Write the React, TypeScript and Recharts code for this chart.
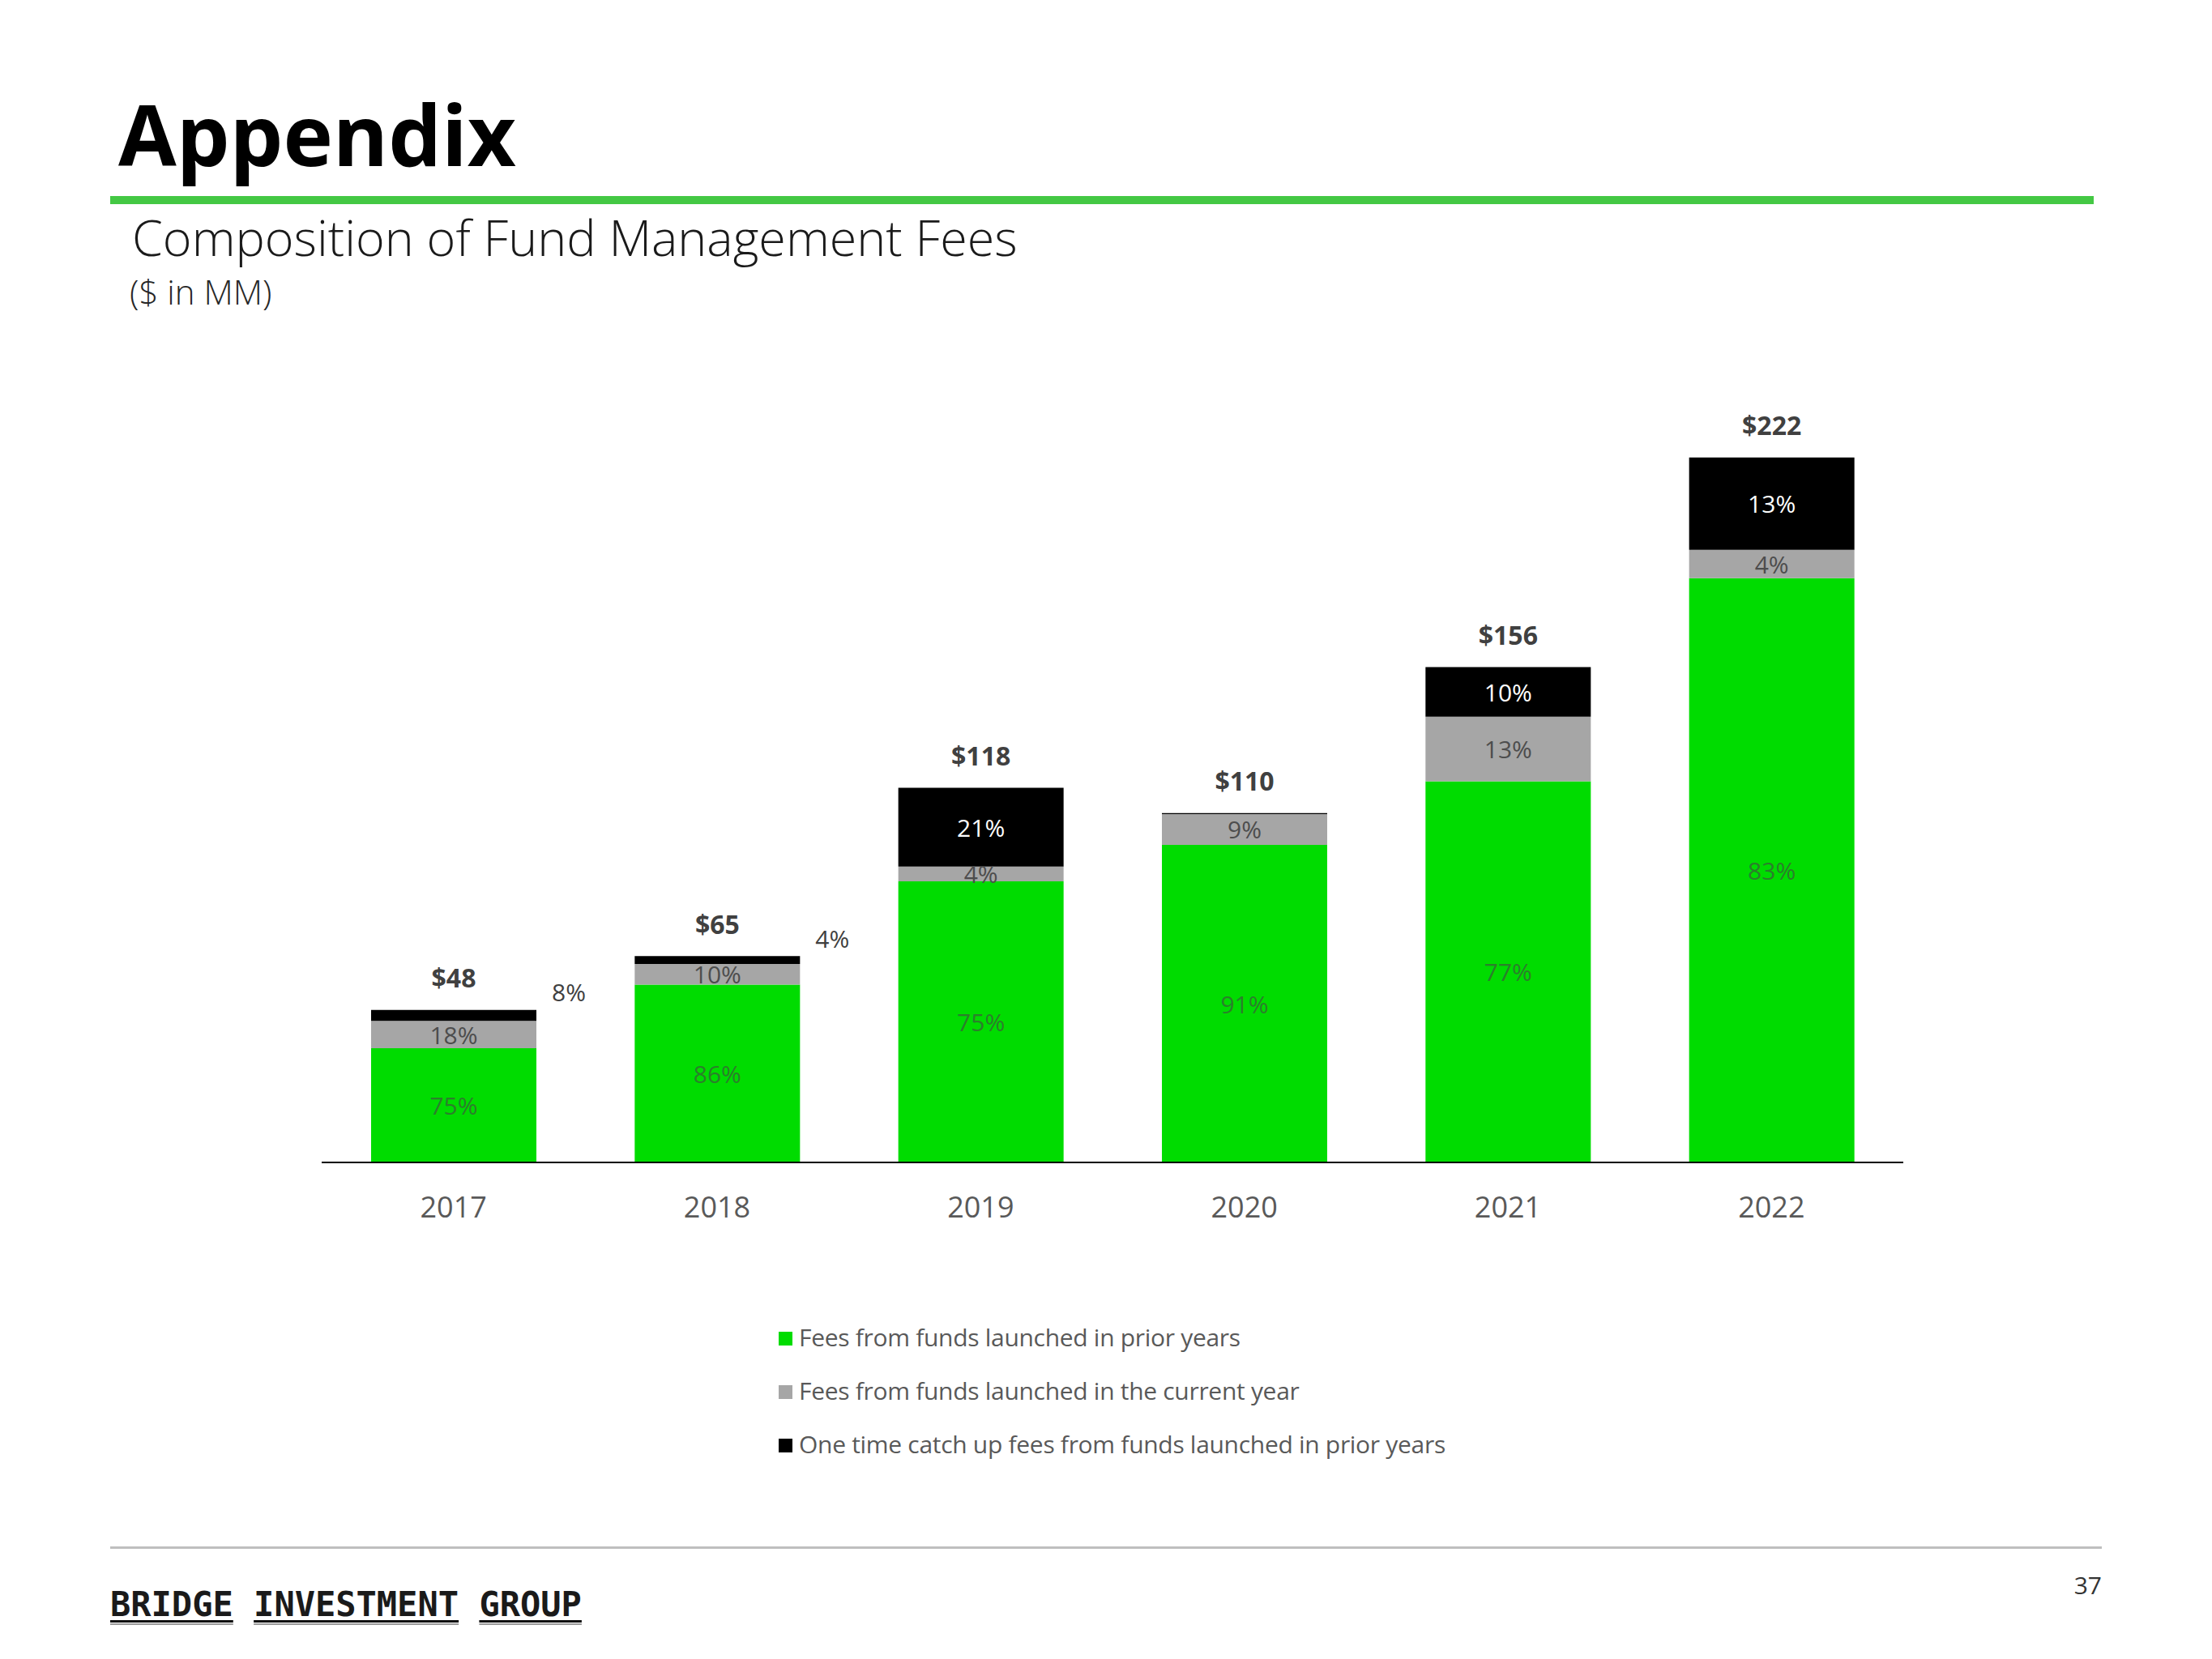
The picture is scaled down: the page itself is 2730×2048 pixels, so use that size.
import { Bar, BarChart, LabelList, Legend, XAxis, YAxis } from "recharts";

// $ in MM
const years = ["2017", "2018", "2019", "2020", "2021", "2022"];
const totals = [48, 65, 118, 110, 156, 222];
const priorFees = [36, 56, 88.5, 100, 120, 184];
const currentFees = [8.6, 6.5, 4.7, 9.7, 20.4, 8.9];
const catchUpFees = [3.4, 2.5, 24.8, 0.3, 15.6, 29.1];

const priorLabels = ["75%", "86%", "75%", "91%", "77%", "83%"];
const currentLabels = ["18%", "10%", "4%", "9%", "13%", "4%"];
const catchUpLabels = ["8%", "4%", "21%", "", "10%", "13%"];

const seriesNames = [
  "Fees from funds launched in prior years",
  "Fees from funds launched in the current year",
  "One time catch up fees from funds launched in prior years",
];

const GREEN = "#00DC00";
const GREY = "#A6A6A6";
const BLACK = "#000000";

const data = years.map((year, i) => ({
  year,
  prior: priorFees[i],
  current: currentFees[i],
  catchUp: catchUpFees[i],
  priorLabel: priorLabels[i],
  currentLabel: currentLabels[i],
  catchUpLabel: catchUpLabels[i],
  totalLabel: `$${totals[i]}`,
}));

function insideLabel(color: string, outsideBelow = 0) {
  return (props: any) => {
    const { x, y, width, height, value } = props;
    if (!value) return null;
    if (height < outsideBelow) {
      // thin segment: label sits above-right of the bar
      return (
        <text x={x + width + 40} y={y - 22} fill="#404040" fontSize={30} textAnchor="middle" dominantBaseline="central">
          {value}
        </text>
      );
    }
    return (
      <text x={x + width / 2} y={y + height / 2} fill={color} fontSize={30} textAnchor="middle" dominantBaseline="central">
        {value}
      </text>
    );
  };
}

function totalLabel(props: any) {
  const { x, y, width, value } = props;
  return (
    <text x={x + width / 2} y={y - 40} fill="#404040" fontSize={32} fontWeight={700} textAnchor="middle" dominantBaseline="central">
      {value}
    </text>
  );
}

function YearTick({ x, y, payload }: any) {
  return (
    <text x={x} y={y + 54} fill="#595959" fontSize={36} textAnchor="middle" dominantBaseline="central">
      {payload.value}
    </text>
  );
}

function LegendBox({ payload }: any) {
  return (
    <div>
      {(payload || []).map((p: any) => (
        <div key={p.value} style={{ display: "flex", alignItems: "center", height: 66 }}>
          <span style={{ width: 17, height: 17, background: p.color, marginRight: 8, marginTop: 4 }} />
          <span style={{ fontSize: 30, color: "#595959", letterSpacing: -0.3 }}>{p.value}</span>
        </div>
      ))}
    </div>
  );
}

const footerWords = ["BRIDGE", "INVESTMENT", "GROUP"];

export default function App() {
  const charW = 25.3;
  let cursor = 136;
  const wordSpans = footerWords.map((w) => {
    const start = cursor;
    cursor += (w.length + 1) * charW;
    return { w, start, end: start + w.length * charW };
  });

  return (
    <div
      style={{
        position: "absolute",
        left: 0,
        top: 0,
        width: 2730,
        height: 2048,
        background: "#fff",
        fontFamily: "'Open Sans', 'Noto Sans', sans-serif",
      }}
    >
      <svg width={2730} height={2048} style={{ position: "absolute", left: 0, top: 0 }}>
        <text x={146} y={205} fontSize={104} fontWeight={700} fill="#000">
          Appendix
        </text>
        <rect x={136} y={242} width={2448} height={10} fill="#44C844" />
        <text x={163} y={316} fontSize={61} fontWeight={300} fill="#1a1a1a">
          Composition of Fund Management Fees
        </text>
        <text x={160} y={376} fontSize={42} fontWeight={300} fill="#262626">
          ($ in MM)
        </text>
        <rect x={136} y={1909} width={2458} height={3} fill="#BFBFBF" />
        {wordSpans.map((s) => (
          <g key={s.w}>
            <text x={s.start} y={1995} fontSize={42} fontWeight={700} fill="#1a1a1a" fontFamily="'DejaVu Sans Mono', monospace">
              {s.w}
            </text>
            <rect x={s.start} y={2000} width={s.end - s.start} height={3} fill="#111" />
            <rect x={s.start} y={2004} width={s.end - s.start} height={2} fill="#9a9a9a" />
          </g>
        ))}
        <text x={2594} y={1968} fontSize={30} fill="#333" textAnchor="end">
          37
        </text>
      </svg>

      <div style={{ position: "absolute", left: 0, top: 0 }}>
        <BarChart
          width={2730}
          height={2048}
          data={data}
          margin={{ top: 455, right: 381, left: 397, bottom: 553 }}
        >
          <XAxis
            dataKey="year"
            height={60}
            axisLine={{ stroke: "#000", strokeWidth: 2 }}
            tickLine={false}
            tickSize={0}
            tickMargin={0}
            tick={<YearTick />}
            interval={0}
          />
          <YAxis type="number" domain={[0, 250]} hide width={0} />
          <Legend
            layout="vertical"
            align="center"
            verticalAlign="middle"
            content={<LegendBox />}
            wrapperStyle={{ position: "absolute", left: 961, top: 1617, width: 1100 }}
          />
          <Bar dataKey="prior" name={seriesNames[0]} stackId="fees" fill={GREEN} barSize={204} isAnimationActive={false}>
            <LabelList dataKey="priorLabel" content={insideLabel("#2B7F2B")} />
          </Bar>
          <Bar dataKey="current" name={seriesNames[1]} stackId="fees" fill={GREY} barSize={204} isAnimationActive={false}>
            <LabelList dataKey="currentLabel" content={insideLabel("#4D4D4D")} />
          </Bar>
          <Bar dataKey="catchUp" name={seriesNames[2]} stackId="fees" fill={BLACK} barSize={204} isAnimationActive={false}>
            <LabelList dataKey="catchUpLabel" content={insideLabel("#FFFFFF", 30)} />
            <LabelList dataKey="totalLabel" content={totalLabel} />
          </Bar>
        </BarChart>
      </div>
    </div>
  );
}
